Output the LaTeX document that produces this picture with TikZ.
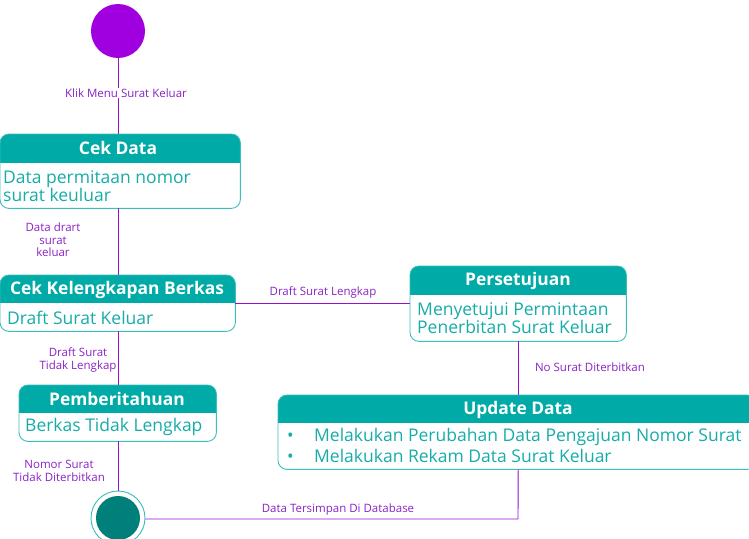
\documentclass[tikz,border=0pt]{standalone}
\usepackage{fontspec}
\setmainfont{Open Sans}
\definecolor{headfill}{HTML}{00AAA6}
\definecolor{boxline}{HTML}{3BBDB9}
\definecolor{bodytext}{HTML}{16ACA8}
\definecolor{flowline}{HTML}{9A10D0}
\definecolor{flowtext}{HTML}{8A22C4}
\definecolor{startfill}{HTML}{A000E0}
\definecolor{endfill}{HTML}{007F7B}
\tikzset{
  flow/.style={draw=flowline, line width=0.9pt},
  flowlabel/.style={text=flowtext, font=\fontsize{11.5}{12.5}\selectfont, align=center, inner sep=1pt},
  stateframe/.style={rectangle, anchor=north west, inner sep=0pt},
  title/.style={text=white, font=\fontsize{17.4}{20}\selectfont\bfseries, inner sep=0pt},
  body/.style={text=bodytext, font=\fontsize{17.5}{18}\selectfont, align=left, anchor=west, inner sep=0pt},
}
% frame: node name, header depth
\newcommand\paintstate[2]{%
  \begin{scope}
    \clip[rounded corners=9pt] (#1.north west) rectangle (#1.south east);
    \fill[headfill] (#1.north west) rectangle ([yshift=-#2]#1.north east);
  \end{scope}
  \draw[boxline, line width=0.9pt, rounded corners=9pt] (#1.north west) rectangle (#1.south east);
}
\newcommand\bulletitem{\makebox[27pt][l]{\textbullet}}
\begin{document}
\begin{tikzpicture}[x=1pt, y=-1pt]
\useasboundingbox (0,0) rectangle (749,538);

% initial and final states
\node[circle, fill=startfill, minimum size=54pt, inner sep=0pt] (start) at (118,31) {};
\node[circle, draw=boxline, fill=white, line width=0.9pt, minimum size=54pt, inner sep=0pt] (end) at (118,518) {};
\node[circle, fill=endfill, minimum size=44pt, inner sep=0pt] (endcore) at (118,518) {};

% states
\node[stateframe, minimum width=240pt, minimum height=74pt] (cek) at (0,134) {};
\paintstate{cek}{29pt}
\node[title] (cekT) at (118,148) {Cek Data};
\node[body] (cekB) at (3,186) {Data permitaan nomor\\surat keuluar};

\node[stateframe, minimum width=235pt, minimum height=56pt] (leng) at (0,275) {};
\paintstate{leng}{28pt}
\node[title] (lengT) at (117,290) {Cek Kelengkapan Berkas};
\node[body] (lengB) at (7,318) {Draft Surat Keluar};

\node[stateframe, minimum width=197pt, minimum height=56pt] (info) at (19,385) {};
\paintstate{info}{28pt}
\node[title] (infoT) at (117,399) {Pemberitahuan};
\node[body] (infoB) at (25,427) {Berkas Tidak Lengkap};

\node[stateframe, minimum width=216pt, minimum height=75pt] (acc) at (410,266) {};
\paintstate{acc}{29pt}
\node[title] (accT) at (518,281) {Persetujuan};
\node[body] (accB) at (417,318) {Menyetujui Permintaan\\Penerbitan Surat Keluar};

\node[stateframe, minimum width=478pt, minimum height=74pt] (upd) at (278,395) {};
\paintstate{upd}{28pt}
\node[title] (updT) at (518,410) {Update Data};
\node[body] (updB1) at (287,437) {\bulletitem Melakukan Perubahan Data Pengajuan Nomor Surat};
\node[body] (updB2) at (287,456) {\bulletitem Melakukan Rekam Data Surat Keluar};

% transitions
\draw[flow] (start.south) -- (start.south |- cek.north);
\draw[flow] (cek.south -| start) -- (leng.north -| start);
\draw[flow] (leng.south -| start) -- (info.north -| start);
\draw[flow] (info.south -| start) -- (end.north);
\draw[flow] (leng.east |- 0,303) -- (acc.west |- 0,303);
\draw[flow] (acc.south) -- (acc.south |- upd.north);
\coordinate (turn) at (518,519);
\draw[flow] (acc.south |- upd.south) -- (turn) -- (end.east |- turn);

% transition labels
\node[flowlabel, fill=white] (l1) at (126,93) {Klik Menu Surat Keluar};
\node[flowlabel] (l2) at (53,240) {Data drart\\surat\\keluar};
\node[flowlabel] (l3) at (323,292) {Draft Surat Lengkap};
\node[flowlabel] (l4) at (78,360) {Draft Surat\\Tidak Lengkap};
\node[flowlabel] (l5) at (590,367) {No Surat Diterbitkan};
\node[flowlabel] (l6) at (59,471) {Nomor Surat\\Tidak Diterbitkan};
\node[flowlabel] (l7) at (338,510) {Data Tersimpan Di Database};
\end{tikzpicture}
\end{document}
